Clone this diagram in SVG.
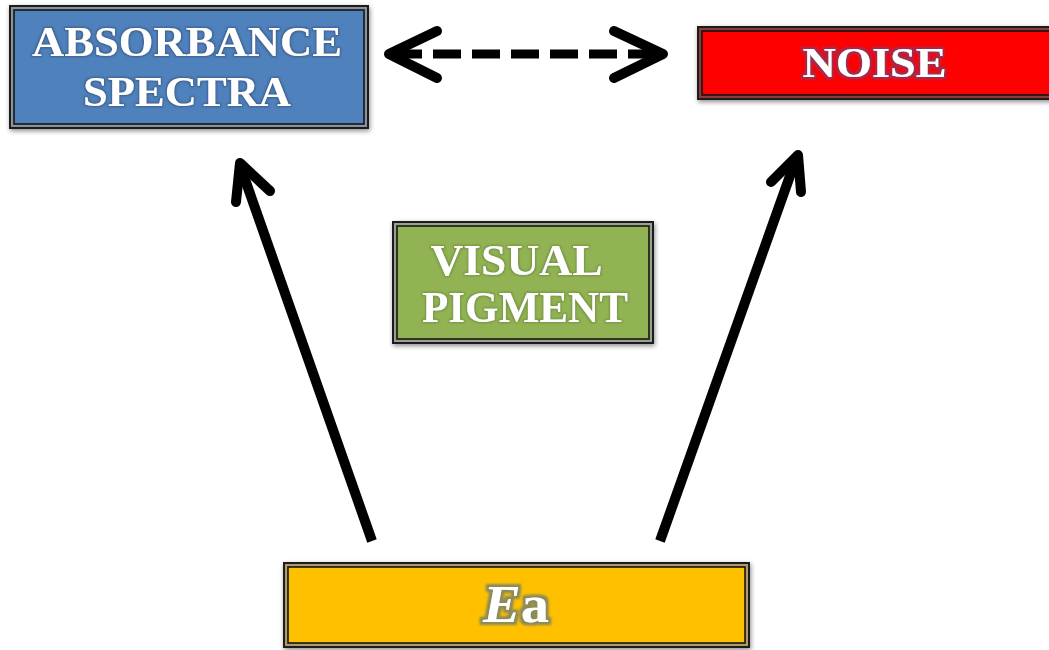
<svg xmlns="http://www.w3.org/2000/svg" width="1049" height="650" viewBox="0 0 1049 650">
<defs>
<filter id="shadow" x="-10%" y="-20%" width="120%" height="140%">
<feGaussianBlur in="SourceAlpha" stdDeviation="2.5"/>
<feOffset dx="1" dy="2" result="b"/>
<feComponentTransfer><feFuncA type="linear" slope="0.45"/></feComponentTransfer>
<feMerge><feMergeNode/><feMergeNode in="SourceGraphic"/></feMerge>
</filter>
<filter id="glowBlue" x="-10%" y="-30%" width="120%" height="160%">
<feMorphology in="SourceAlpha" operator="dilate" radius="1" result="d"/>
<feGaussianBlur in="d" stdDeviation="1" result="g"/>
<feFlood flood-color="#34557e" flood-opacity="0.8"/><feComposite in2="g" operator="in"/>
<feMerge><feMergeNode/><feMergeNode in="SourceGraphic"/></feMerge>
</filter>
<filter id="glowRed" x="-10%" y="-30%" width="120%" height="160%">
<feMorphology in="SourceAlpha" operator="dilate" radius="2" result="d"/>
<feGaussianBlur in="d" stdDeviation="1.2" result="g"/>
<feFlood flood-color="#98305a"/><feComposite in2="g" operator="in"/>
<feMerge><feMergeNode/><feMergeNode in="SourceGraphic"/></feMerge>
</filter>
<filter id="glowGreen" x="-10%" y="-30%" width="120%" height="160%">
<feMorphology in="SourceAlpha" operator="dilate" radius="1" result="d"/>
<feGaussianBlur in="d" stdDeviation="1" result="g"/>
<feFlood flood-color="#6f8a3c" flood-opacity="0.8"/><feComposite in2="g" operator="in"/>
<feMerge><feMergeNode/><feMergeNode in="SourceGraphic"/></feMerge>
</filter>
<filter id="glowGold" x="-20%" y="-30%" width="140%" height="160%">
<feMorphology in="SourceAlpha" operator="dilate" radius="2.5" result="d"/>
<feGaussianBlur in="d" stdDeviation="1.2" result="g"/>
<feFlood flood-color="#8c8a55"/><feComposite in2="g" operator="in"/>
<feMerge><feMergeNode/><feMergeNode in="SourceGraphic"/></feMerge>
</filter>
</defs>
<style>
.outer{stroke:#1a1a1a;stroke-width:2}
.inner{stroke:#151515;stroke-width:1.6}
.lbl{font-family:"Liberation Serif","Times New Roman",serif;font-weight:bold;fill:#ffffff;text-anchor:middle}
.con{stroke:#000;fill:none;stroke-linejoin:round}
.head{stroke-linecap:round;stroke-width:10}
.shaft{stroke-linecap:butt;stroke-width:10}
.dash{stroke-linecap:butt;stroke-width:9;stroke-dasharray:28 11}
</style>
<rect width="1049" height="650" fill="#ffffff"/>

<g id="connectors">
<line class="con dash" x1="394" y1="54" x2="658" y2="54"/>
<polyline class="con head" points="437,31 389,54 437,78"/>
<polyline class="con head" points="614,31 663,54 614,78"/>
<line class="con shaft" x1="372" y1="541" x2="241" y2="168"/>
<polyline class="con head" points="236,202 240,163 270,191"/>
<line class="con shaft" x1="660" y1="541" x2="796" y2="159"/>
<polyline class="con head" points="771,182 798,155 801,192"/>
</g>

<g id="absorbance" filter="url(#shadow)">
<rect class="outer" x="10" y="6" width="358" height="122" fill="#8b929c"/>
<rect class="inner" x="14" y="10" width="350" height="114" fill="#4F81BD"/>
<g filter="url(#glowBlue)">
<text class="lbl" x="187" y="56" font-size="43" textLength="310" lengthAdjust="spacingAndGlyphs">ABSORBANCE</text>
<text class="lbl" x="187" y="106" font-size="43" textLength="208" lengthAdjust="spacingAndGlyphs">SPECTRA</text>
</g>
</g>

<g id="noise" filter="url(#shadow)">
<rect class="outer" x="698" y="27" width="362" height="72" fill="#8c3a3a"/>
<rect class="inner" x="702" y="31" width="360" height="64" fill="#FF0000"/>
<text class="lbl" x="874.5" y="77" font-size="43" textLength="144" lengthAdjust="spacingAndGlyphs" filter="url(#glowRed)">NOISE</text>
</g>

<g id="visual-pigment" filter="url(#shadow)">
<rect class="outer" x="393" y="222" width="260" height="121" fill="#9aa08e"/>
<rect class="inner" x="397" y="226" width="252" height="113" fill="#91B352"/>
<g filter="url(#glowGreen)">
<text class="lbl" x="516.5" y="275" font-size="44" textLength="172" lengthAdjust="spacingAndGlyphs">VISUAL</text>
<text class="lbl" x="525" y="322" font-size="44" textLength="206" lengthAdjust="spacingAndGlyphs">PIGMENT</text>
</g>
</g>

<g id="ea" filter="url(#shadow)">
<rect class="outer" x="284" y="563" width="465" height="84" fill="#b09a6a"/>
<rect class="inner" x="288" y="567" width="457" height="76" fill="#FFC000"/>
<text class="lbl" x="516" y="622" font-size="52" textLength="66" lengthAdjust="spacingAndGlyphs" filter="url(#glowGold)"><tspan font-style="italic">E</tspan>a</text>
</g>
</svg>
